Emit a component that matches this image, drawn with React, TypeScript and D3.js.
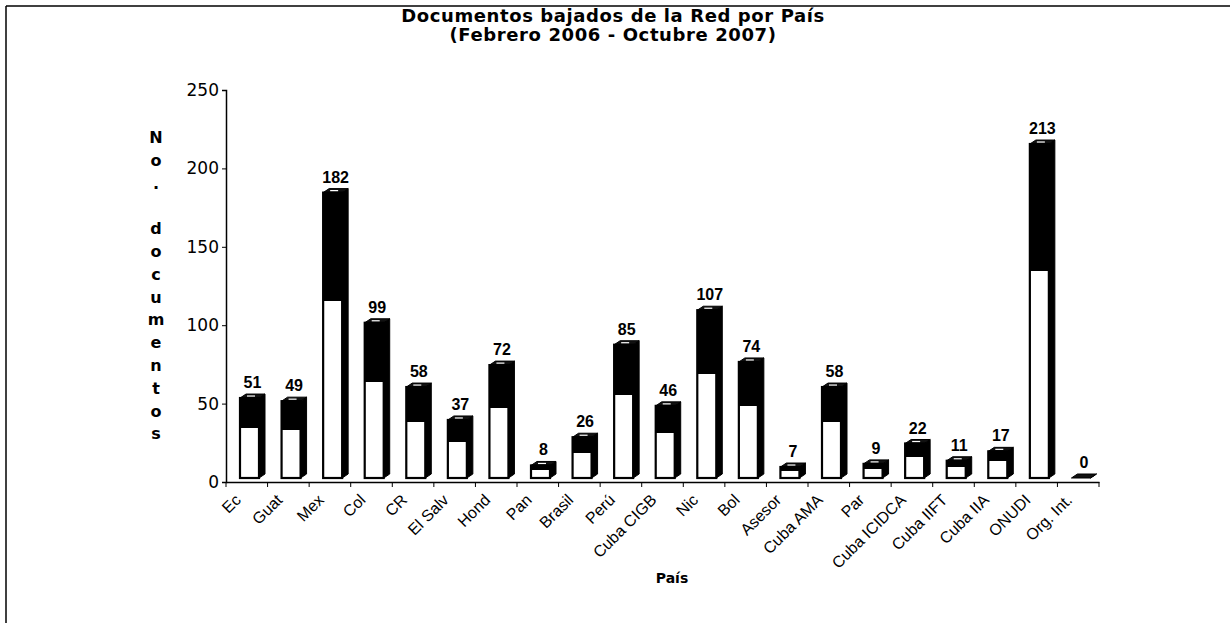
import React, { useEffect, useRef } from "react";
import * as d3 from "d3";

const categories = [
  "Ec", "Guat", "Mex", "Col", "CR", "El Salv", "Hond", "Pan", "Brasil", "Perú",
  "Cuba CIGB", "Nic", "Bol", "Asesor", "Cuba AMA", "Par", "Cuba ICIDCA",
  "Cuba IIFT", "Cuba IIA", "ONUDI", "Org. Int.",
];
const values = [51, 49, 182, 99, 58, 37, 72, 8, 26, 85, 46, 107, 74, 7, 58, 9, 22, 11, 17, 213, 0];
const yTicks = [0, 50, 100, 150, 200, 250];
const titleLines = ["Documentos bajados de la Red por País", "(Febrero 2006 - Octubre 2007)"];
const yTitleLetters = ["N", "o", ".", "", "d", "o", "c", "u", "m", "e", "n", "t", "o", "s"];

const App: React.FC = () => {
  const svgRef = useRef<SVGSVGElement | null>(null);

  useEffect(() => {
    if (!svgRef.current) return;
    const width = 1230;
    const height = 623;
    const margin = { top: 90, right: 131, bottom: 141, left: 226 };

    const svg = d3.select(svgRef.current);
    svg.selectAll("*").remove();

    // frame (only top and left edges visible in the scan)
    svg.append("line").attr("x1", 6).attr("y1", 6).attr("x2", width).attr("y2", 6)
      .attr("stroke", "#000").attr("stroke-width", 1.5);
    svg.append("line").attr("x1", 6).attr("y1", 6).attr("x2", 6).attr("y2", height)
      .attr("stroke", "#000").attr("stroke-width", 1.5);

    const x = d3.scaleBand().domain(categories).range([margin.left, width - margin.right]).padding(0);
    const y = d3.scaleLinear().domain([0, 250]).range([height - margin.bottom, margin.top]);

    const defs = svg.append("defs");
    const grad = defs.append("linearGradient").attr("id", "barGrad")
      .attr("x1", 0).attr("y1", 0).attr("x2", 0).attr("y2", 1);
    grad.append("stop").attr("offset", "0%").attr("stop-color", "#000");
    grad.append("stop").attr("offset", "38%").attr("stop-color", "#000");
    grad.append("stop").attr("offset", "38%").attr("stop-color", "#fff");
    grad.append("stop").attr("offset", "100%").attr("stop-color", "#fff");

    const frontW = 19;
    const depthX = 6;
    const depthY = 4;
    const lift = 4;
    const offset = 14;

    const bars = svg.append("g");
    categories.forEach((c, i) => {
      const v = values[i];
      const x0 = (x(c) || 0) + offset;
      const yb = y(0) - lift;
      const yt = y(v) - lift;
      const g = bars.append("g");
      // side face
      g.append("path")
        .attr("d", `M${x0 + frontW},${yb} L${x0 + frontW + depthX},${yb - depthY} L${x0 + frontW + depthX},${yt - depthY} L${x0 + frontW},${yt} Z`)
        .attr("fill", "#000").attr("stroke", "#000").attr("stroke-width", 1);
      // top face
      g.append("path")
        .attr("d", `M${x0},${yt} L${x0 + depthX},${yt - depthY} L${x0 + frontW + depthX},${yt - depthY} L${x0 + frontW},${yt} Z`)
        .attr("fill", "#111").attr("stroke", "#000").attr("stroke-width", 1);
      if (v > 0) {
        g.append("rect")
          .attr("x", x0).attr("y", yt).attr("width", frontW).attr("height", yb - yt)
          .attr("fill", "url(#barGrad)").attr("stroke", "#000").attr("stroke-width", 2.2);
        g.append("line")
          .attr("x1", x0 + 7).attr("x2", x0 + 15).attr("y1", yt - 2).attr("y2", yt - 2)
          .attr("stroke", "#fff").attr("stroke-width", 1.2);
      }
      // value label
      svg.append("text")
        .attr("x", x0 + (frontW + depthX) / 2)
        .attr("y", yt - depthY - 6)
        .attr("text-anchor", "middle")
        .attr("font-family", "Liberation Sans, Arial, sans-serif")
        .attr("font-weight", "bold")
        .attr("font-size", "16px")
        .text(String(v));
    });

    // y axis
    const yAxis = svg.append("g")
      .attr("transform", `translate(${margin.left},0)`)
      .call(d3.axisLeft(y).tickValues(yTicks).tickSize(4).tickPadding(3));
    yAxis.select(".domain").attr("stroke-width", 1.5);
    yAxis.selectAll("text")
      .attr("font-family", "DejaVu Sans, Verdana, sans-serif")
      .attr("font-size", "17px")
      .attr("fill", "#000");

    // x axis
    const xAxis = svg.append("g")
      .attr("transform", `translate(0,${y(0)})`)
      .call(d3.axisBottom(x).tickSize(0).tickFormat(() => ""));
    xAxis.select(".domain").attr("stroke-width", 1.5);
    const boundaries = d3.range(categories.length + 1).map((i) => margin.left + i * x.step());
    svg.append("g").selectAll("line").data(boundaries).join("line")
      .attr("x1", (d) => d).attr("x2", (d) => d)
      .attr("y1", y(0)).attr("y2", y(0) + 5)
      .attr("stroke", "#000").attr("stroke-width", 1);

    svg.append("g").selectAll("text").data(categories).join("text")
      .attr("transform", (d) => `translate(${(x(d) || 0) + x.bandwidth() / 2 - 5},${y(0) + 19}) rotate(-45)`)
      .attr("text-anchor", "end")
      .attr("font-family", "Liberation Sans, Arial, sans-serif")
      .attr("font-size", "16px")
      .text((d) => d);

    // titles
    svg.append("g").selectAll("text").data(titleLines).join("text")
      .attr("x", 613)
      .attr("y", (_d, i) => 22 + i * 19)
      .attr("text-anchor", "middle")
      .attr("font-family", "DejaVu Sans, Verdana, sans-serif")
      .attr("font-weight", "bold")
      .attr("font-size", "18px")
      .attr("letter-spacing", "0.6px")
      .text((d) => d);

    svg.append("g").selectAll("text").data(yTitleLetters).join("text")
      .attr("x", 156)
      .attr("y", (_d, i) => 143 + i * 22.8)
      .attr("text-anchor", "middle")
      .attr("font-family", "DejaVu Sans, Verdana, sans-serif")
      .attr("font-weight", "bold")
      .attr("font-size", "16px")
      .text((d) => d);

    svg.append("text")
      .attr("x", 672)
      .attr("y", 583)
      .attr("text-anchor", "middle")
      .attr("font-family", "DejaVu Sans, Verdana, sans-serif")
      .attr("font-weight", "bold")
      .attr("font-size", "14px")
      .text("País");
  }, []);

  return (
    <svg ref={svgRef} width={1230} height={623}
      style={{ position: "absolute", left: 0, top: 0, background: "#fff" }} />
  );
};

export default App;
